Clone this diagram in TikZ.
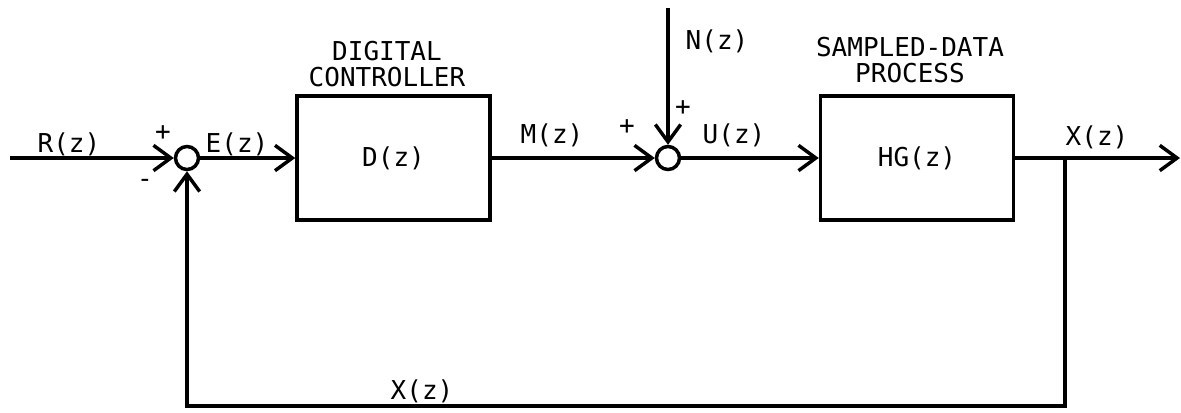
\documentclass[tikz,border=0pt]{standalone}
\usepackage{fontspec}
\setmonofont{DejaVu Sans Mono}
\usetikzlibrary{arrows.meta}
\begin{document}
\begin{tikzpicture}[x=0.75pt, y=-0.75pt, line width=2.6pt,
    font=\ttfamily\fontsize{19.5}{19.5}\selectfont,
    block/.style={draw, minimum width=144.75pt, minimum height=93pt, inner sep=0pt},
    sumpt/.style={draw, circle, minimum size=17.25pt, inner sep=0pt},
    sig/.style={anchor=base},
    >={Straight Barb[length=13pt, width=19pt]}]
    \useasboundingbox (0,0) rectangle (1181,412);
    % blocks and summing points
    \node[sumpt] (sum1) at (187,158) {};
    \node[block] (ctrl) at (393.5,158) {D(z)};
    \node[sumpt] (sum2) at (668,158) {};
    \node[block] (proc) at (917,158) {HG(z)};
    \node[align=center, inner sep=0pt] (ctrllab) at (387,64.5) {DIGITAL\\CONTROLLER};
    \node[align=center, inner sep=0pt] (proclab) at (910,60) {SAMPLED-DATA\\PROCESS};
    \coordinate (in) at (10,158);
    \coordinate (noise) at (668,8);
    \coordinate (branch) at (1065,158);
    \coordinate (out) at (1180,158);
    \coordinate (fbr) at (1065,406);
    \coordinate (fbl) at (187,406);
    % signals
    \draw[->] (in) -- (sum1);
    \draw[->] (sum1) -- (ctrl);
    \draw[->] (ctrl) -- (sum2);
    \draw[->] (noise) -- (sum2);
    \draw[->] (sum2) -- (proc);
    \draw[->] (proc) -- (out);
    \draw[->] (branch) -- (fbr) -- (fbl) -- (sum1);
    % labels
    \node[sig] (r) at (69,152) {R(z)};
    \node[sig] (e) at (237,152) {E(z)};
    \node[sig] (m) at (552,143) {M(z)};
    \node[sig] (u) at (734,143) {U(z)};
    \node[sig] (n) at (717,49) {N(z)};
    \node[sig] (x) at (1097,145) {X(z)};
    \node[sig] (xfb) at (422,399) {X(z)};
    \node (p1) at (163,133) {+};
    \node (m1) at (145,183) {-};
    \node (p2) at (627,127) {+};
    \node (p3) at (683,108) {+};
\end{tikzpicture}
\end{document}
